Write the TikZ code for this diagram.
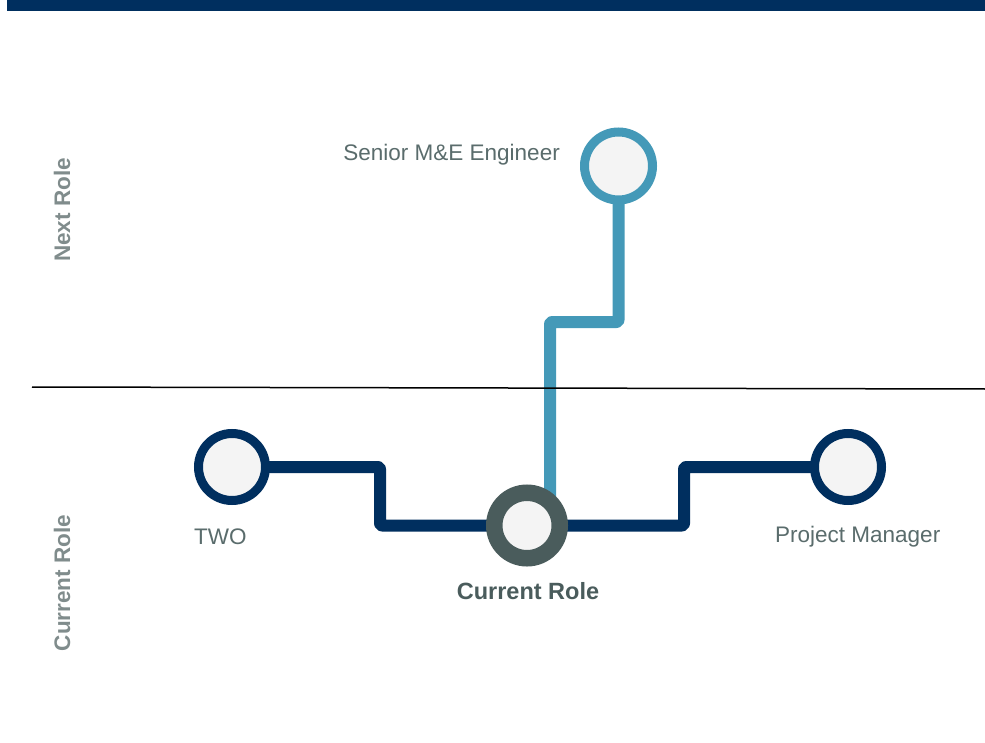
\documentclass[tikz,border=0pt]{standalone}
\usepackage{fontspec}
\setmainfont{Liberation Sans}
\usetikzlibrary{calc}
\definecolor{navy}{RGB}{0,47,95}
\definecolor{skyline}{RGB}{68,153,184}
\definecolor{slate}{RGB}{74,92,92}
\definecolor{labelgray}{RGB}{90,108,108}
\definecolor{sidegray}{RGB}{128,140,140}
\definecolor{fillgray}{RGB}{244,244,244}
\pgfdeclarelayer{background}
\pgfsetlayers{background,main}
\tikzset{
  rolecircle/.style={circle, draw=navy, fill=fillgray, line width=9pt, minimum size=67pt, inner sep=0pt, outer sep=0pt},
  nextcircle/.style={rolecircle, draw=skyline, minimum size=68pt},
  currcircle/.style={rolecircle, draw=slate, line width=16.5pt, minimum size=65.5pt},
  navyline/.style={draw=navy, line width=12pt, line join=round, rounded corners=2pt},
  skyroute/.style={draw=skyline, line width=12pt, line join=round, rounded corners=2pt},
  rolelabel/.style={font=\fontsize{22.5}{26}\selectfont, text=labelgray, inner sep=0pt},
  currlabel/.style={font=\fontsize{23.5}{27}\selectfont\bfseries, text=slate, inner sep=0pt},
  sidelabel/.style={font=\fontsize{22.5}{26}\selectfont\bfseries, text=sidegray, inner sep=0pt, rotate=90}
}
\begin{document}
\begin{tikzpicture}[x=1pt,y=-1pt]
\useasboundingbox (0,0) rectangle (985,743);
\fill[navy] (7,0) rectangle (985,11) ;
\draw[black, line width=1.5pt] (32,387) -- (985,389);

\node[sidelabel] (nextside) at (62,210) {Next Role};
\node[sidelabel] (currside) at (62,583) {Current Role};

\node[nextcircle] (senior) at (618.5,166) {};
\node[rolecircle] (two) at (232,467) {};
\node[currcircle] (cur) at (527,525.5) {};
\node[rolecircle] (pm) at (848,467) {};

\coordinate (k1) at (380,0);
\coordinate (k2) at (684,0);
\coordinate (k3) at (550,322);

\begin{pgfonlayer}{background}
\fill[white] (0,0) rectangle (985,743);
\draw[navyline] (two.center) -- (two.center -| k1) -- (k1 |- cur.center) -- (cur.center);
\draw[navyline] (cur.center) -- (cur.center -| k2) -- (k2 |- pm.center) -- (pm.center);
\draw[skyroute] (senior.center) -- (senior.center |- k3) -- (k3) -- (k3 |- cur.center);
\end{pgfonlayer}

\node[rolelabel, anchor=east] (seniorlbl) at (560,155) {Senior M\&E Engineer};
\node[rolelabel, anchor=west] (twolbl) at (194,537) {TWO};
\node[rolelabel, anchor=west] (pmlbl) at (775,537) {Project Manager};
\node[currlabel] (curlbl) at (528,591) {Current Role};
\end{tikzpicture}
\end{document}
